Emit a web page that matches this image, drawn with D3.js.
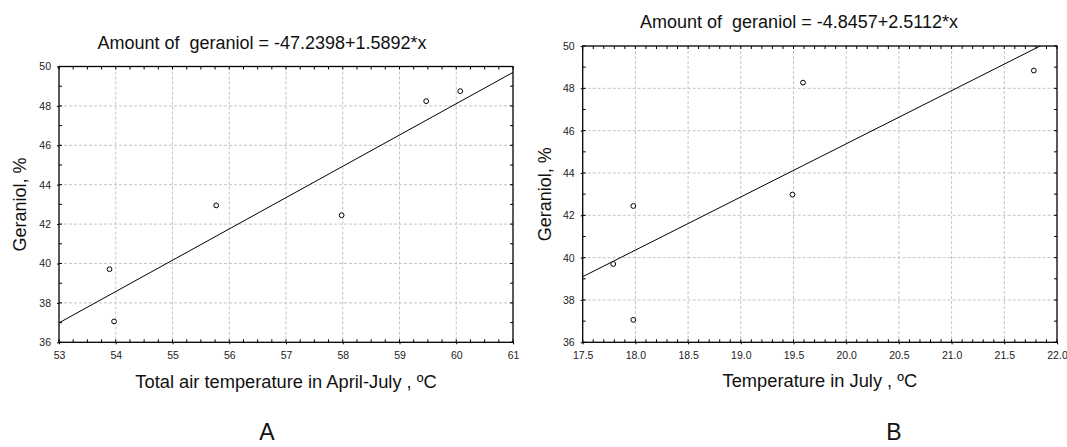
<!DOCTYPE html>
<html><head><meta charset="utf-8">
<script src="https://cdn.jsdelivr.net/npm/d3@7"></script>
<style>
html,body{margin:0;padding:0;background:#fff;}
text{font-family:"Liberation Sans",Arial,sans-serif;white-space:pre;}
</style></head>
<body><svg id="c" width="1067" height="447"></svg>
<script>
// Panel A data
const xA = [53.89, 53.97, 55.77, 57.98, 59.47, 60.07];
const yA = [39.71, 37.06, 42.95, 42.45, 48.24, 48.75];
const fitA = [-47.2398, 1.5892];
const xTicksA = [53, 54, 55, 56, 57, 58, 59, 60, 61];
const yTicks = [36, 38, 40, 42, 44, 46, 48, 50];
// Panel B data
const xB = [17.79, 17.98, 17.98, 19.49, 19.59, 21.78];
const yB = [39.70, 42.44, 37.06, 42.98, 48.27, 48.84];
const fitB = [-4.8457, 2.5112];
const xTicksB = [17.5, 18.0, 18.5, 19.0, 19.5, 20.0, 20.5, 21.0, 21.5, 22.0];

const svg = d3.select("#c");

function panel(o){
  const g = svg.append("g");
  const x = d3.scaleLinear().domain(o.xdom).range([o.l, o.r]);
  const y = d3.scaleLinear().domain([36, 50]).range([o.b, o.t]);
  const id = "clip" + o.name;
  svg.append("defs").append("clipPath").attr("id", id)
    .append("rect").attr("x", o.l).attr("y", o.t).attr("width", o.r - o.l).attr("height", o.b - o.t);
  // grid
  g.append("g").selectAll("line").data(o.xticks.slice(1, -1)).join("line")
    .attr("x1", d => x(d)).attr("x2", d => x(d)).attr("y1", o.t).attr("y2", o.b)
    .attr("stroke", "#c4c4c4").attr("stroke-dasharray", "3,2").attr("stroke-width", 1);
  g.append("g").selectAll("line").data(yTicks.slice(1, -1)).join("line")
    .attr("y1", d => y(d)).attr("y2", d => y(d)).attr("x1", o.l).attr("x2", o.r)
    .attr("stroke", "#c4c4c4").attr("stroke-dasharray", "3,2").attr("stroke-width", 1);
  // minor ticks inward
  const xminor = d3.range(o.xdom[0], o.xdom[1] + 1e-9, o.xminor);
  const yminor = d3.range(36, 50.0001, 1);
  const tk = g.append("g").attr("stroke", "#000").attr("stroke-width", 1);
  xminor.forEach(v => {
    tk.append("line").attr("x1", x(v)).attr("x2", x(v)).attr("y1", o.b).attr("y2", o.b - 3);
    tk.append("line").attr("x1", x(v)).attr("x2", x(v)).attr("y1", o.t).attr("y2", o.t + 3);
  });
  yminor.forEach(v => {
    tk.append("line").attr("y1", y(v)).attr("y2", y(v)).attr("x1", o.l).attr("x2", o.l + 3);
    tk.append("line").attr("y1", y(v)).attr("y2", y(v)).attr("x1", o.r).attr("x2", o.r - 3);
  });
  // axes via d3
  const ax = g.append("g").attr("transform", `translate(0,${o.b})`)
    .call(d3.axisBottom(x).tickValues(o.xticks).tickFormat(o.xfmt).tickSize(2).tickPadding(7));
  const ay = g.append("g").attr("transform", `translate(${o.l},0)`)
    .call(d3.axisLeft(y).tickValues(yTicks).tickFormat(d3.format("d")).tickSize(2).tickPadding(6));
  [ax, ay].forEach(a => {
    a.select(".domain").remove();
    a.selectAll("text").attr("font-size", 10.5).attr("fill", "#222")
      .attr("font-family", '"Liberation Sans",Arial,sans-serif');
    a.selectAll("line").attr("stroke", "#000");
  });
  // frame
  g.append("rect").attr("x", o.l).attr("y", o.t).attr("width", o.r - o.l).attr("height", o.b - o.t)
    .attr("fill", "none").attr("stroke", "#000").attr("stroke-width", 1.3);
  // fit line
  const fx = o.xdom;
  g.append("line").attr("clip-path", `url(#${id})`)
    .attr("x1", x(fx[0])).attr("y1", y(o.fit[0] + o.fit[1] * fx[0]))
    .attr("x2", x(fx[1])).attr("y2", y(o.fit[0] + o.fit[1] * fx[1]))
    .attr("stroke", "#000").attr("stroke-width", 1);
  // points
  g.append("g").selectAll("circle").data(o.xs.map((v, i) => [v, o.ys[i]])).join("circle")
    .attr("cx", d => x(d[0])).attr("cy", d => y(d[1])).attr("r", 2.4)
    .attr("fill", "#fff").attr("stroke", "#000").attr("stroke-width", 1);
  // texts
  g.append("text").attr("x", o.titleX).attr("y", o.titleY).attr("text-anchor", "middle")
    .attr("font-size", 18).attr("fill", "#111").text(o.title);
  g.append("text").attr("transform", `translate(${o.ylabX},${(o.t + o.b) / 2}) rotate(-90)`)
    .attr("text-anchor", "middle").attr("font-size", 18).attr("fill", "#111").text("Geraniol, %");
  g.append("text").attr("x", (o.l + o.r) / 2).attr("y", o.xlabY).attr("text-anchor", "middle")
    .attr("font-size", 18.3).attr("fill", "#111").text(o.xlab);
  g.append("text").attr("x", o.letterX).attr("y", 440).attr("text-anchor", "middle")
    .attr("font-size", 23).attr("fill", "#111").text(o.name);
}

panel({name: "A", xdom: [53, 61], l: 59, r: 513, t: 66.5, b: 342.3, xticks: xTicksA, xminor: 0.25,
  xfmt: d3.format("d"), xs: xA, ys: yA, fit: fitA,
  title: "Amount of  geraniol = -47.2398+1.5892*x", titleX: 262, titleY: 49,
  ylabX: 26, xlab: "Total air temperature in April-July , ºC", xlabY: 388, letterX: 267});
panel({name: "B", xdom: [17.5, 22], l: 582.7, r: 1057, t: 46, b: 342.3, xticks: xTicksB, xminor: 0.1,
  xfmt: d3.format(".1f"), xs: xB, ys: yB, fit: fitB,
  title: "Amount of  geraniol = -4.8457+2.5112*x", titleX: 799, titleY: 28,
  ylabX: 551, xlab: "Temperature in July , ºC", xlabY: 387, letterX: 894});
</script></body></html>
